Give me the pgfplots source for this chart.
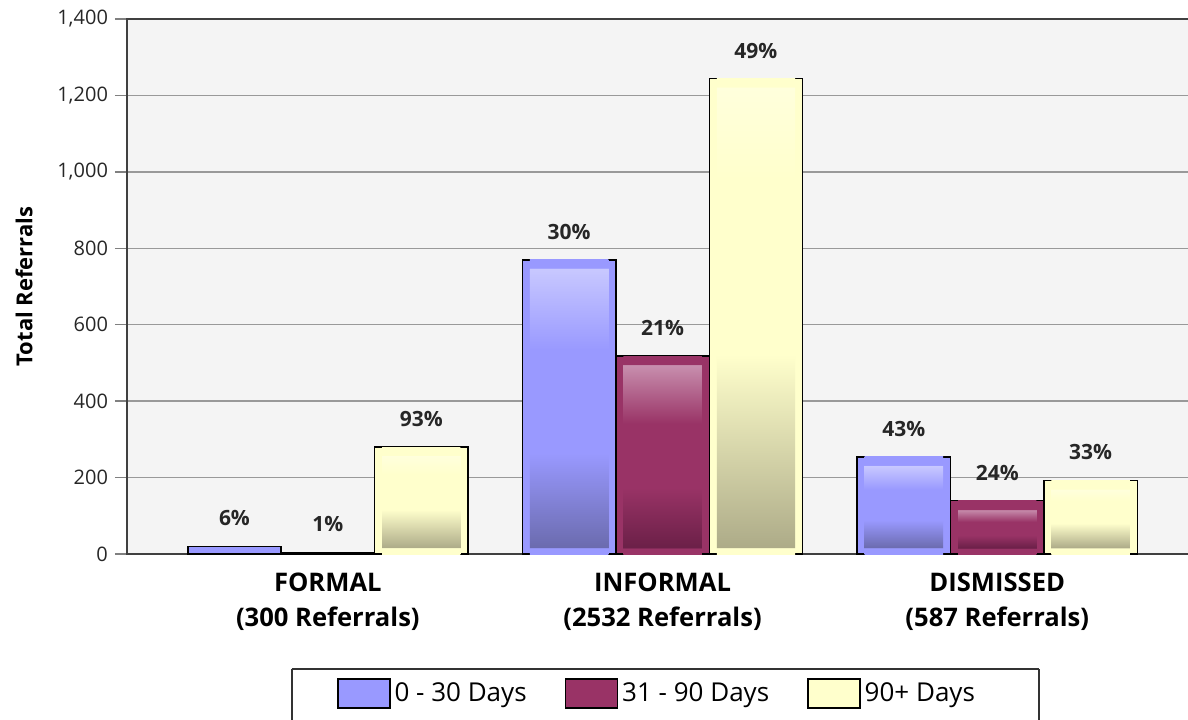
\documentclass[border=0pt]{standalone}
\usepackage{pgfplots}
\pgfplotsset{compat=1.18}
\usepackage{fontspec}
\setmainfont{Open Sans}
\definecolor{cA}{HTML}{9999FF}
\definecolor{cAt}{HTML}{C8C8FF}
\definecolor{cAb}{HTML}{6B6BAE}
\definecolor{cB}{HTML}{993366}
\definecolor{cBt}{HTML}{C88FAE}
\definecolor{cBb}{HTML}{6B2048}
\definecolor{cC}{HTML}{FFFFCC}
\definecolor{cCt}{HTML}{FFFFDC}
\definecolor{cCb}{HTML}{ADAB88}
\definecolor{bgc}{HTML}{F4F4F4}
% #1 name, #2 bar value, #3 dark, #4 base, #5 light, #6 bottom fraction, #7 top fraction
\newcommand\mkshade[7]{%
  \pgfmathsetmacro\hh{#2/1400*267.5}%
  \pgfmathsetmacro\hi{\hh-7.5}%
  \pgfmathsetmacro\sa{25+150/\hh}%
  \pgfmathsetmacro\sb{\sa+0.02}%
  \pgfmathsetmacro\sc{25+50*(3+#6*\hi)/\hh}%
  \pgfmathsetmacro\sd{25+50*(\hh-4.5-#7*\hi)/\hh}%
  \pgfmathsetmacro\se{25+50*(\hh-4.5)/\hh}%
  \pgfmathsetmacro\sf{\se+0.02}%
  \edef\tmpdecl{\noexpand\pgfdeclareverticalshading{#1}{100bp}{color(0bp)=(#4); color(\sa bp)=(#4); color(\sb bp)=(#3); color(\sc bp)=(#4); color(\sd bp)=(#4); color(\se bp)=(#5); color(\sf bp)=(#4); color(100bp)=(#4)}}%
  \tmpdecl}
\mkshade{shA1}{770}{cAb}{cA}{cAt}{0.34}{0.29}
\mkshade{shA2}{254}{cAb}{cA}{cAt}{0.34}{0.29}
\mkshade{shB1}{518}{cBb}{cB}{cBt}{0.33}{0.32}
\mkshade{shB2}{140}{cBb}{cB}{cBt}{0.33}{0.32}
\mkshade{shC0}{280}{cCb}{cC}{cCt}{0.42}{0.2}
\mkshade{shC1}{1244}{cCb}{cC}{cCt}{0.42}{0.2}
\mkshade{shC2}{193}{cCb}{cC}{cCt}{0.42}{0.2}
\pgfplotsset{
  lab/.style={point meta=explicit symbolic, nodes near coords={\pgfplotspointmeta\%},
    nodes near coords style={anchor=center, yshift=14pt, xshift=#1, font=\fontsize{10.5}{12}\selectfont\bfseries, text=black!85}},
  barA/.style={ybar, bar width=0.279, bar shift=-0.279, draw=black, line width=0.75pt, fill=cA, lab=-46.69pt},
  barB/.style={ybar, bar width=0.279, bar shift=0, draw=black, line width=0.75pt, fill=cB, lab=0pt},
  barC/.style={ybar, bar width=0.279, bar shift=0.279, draw=black, line width=0.75pt, fill=cC, lab=46.69pt},
  inA/.style={ybar, bar width=0.2342, bar shift=-0.279, draw=none, shade, shading=#1},
  inB/.style={ybar, bar width=0.2342, bar shift=0, draw=none, shade, shading=#1},
  inC/.style={ybar, bar width=0.2342, bar shift=0.279, draw=none, shade, shading=#1},
}

\begin{document}
\begin{tikzpicture}[x=1pt,y=1pt]
\path[use as bounding box] (0,0) rectangle (594,359.5);
\begin{axis}[
  at={(63.5pt,82.5pt)}, anchor=south west,
  scale only axis, width=535pt, height=267.5pt,
  xmin=-0.6, xmax=2.5967, ymin=0, ymax=1400,
  axis background/.style={fill=bgc},
  ytick={0,200,...,1400},
  xtick={0,1,2},
  xticklabels={{FORMAL\\(300 Referrals)},{INFORMAL\\(2532 Referrals)},{DISMISSED\\(587 Referrals)}},
  xticklabel style={align=center, font=\fontsize{12.8}{17.5}\selectfont\bfseries, text=black},
  major x tick style={draw=none},
  ymajorgrids, grid style={black!40, line width=0.75pt},
  major y tick style={black!50, line width=0.75pt},
  tick align=outside, major tick length=6pt,
  yticklabel style={font=\fontsize{10}{12}\selectfont, text=black!85},
  /pgf/number format/assume math mode=true,
  /pgf/number format/1000 sep={,},
  axis line style={black!75, line width=1pt},
  ylabel={Total Referrals},
  every axis y label/.style={at={(axis description cs:0,0.5)}, xshift=-51.5pt, rotate=90, anchor=center, font=\fontsize{11}{13}\selectfont\bfseries, text=black},
  legend style={name=leg, draw=none, fill=white, inner xsep=0pt, inner ysep=0pt,
    at={(0,0)}, anchor=center, xshift=265.5pt, yshift=-69.75pt,
    font=\fontsize{13}{14}\selectfont, legend columns=3,
    /tikz/every even column/.append style={column sep=17pt}},
  legend cell align=left,
]
\addlegendimage{legend image code/.code={\draw[black, line width=0.75pt, fill=cA] (0pt,-7.25pt) rectangle (26pt,7.25pt);}}
\addlegendimage{legend image code/.code={\draw[black, line width=0.75pt, fill=cB] (0pt,-7.25pt) rectangle (26pt,7.25pt);}}
\addlegendimage{legend image code/.code={\draw[black, line width=0.75pt, fill=cC] (0pt,-7.25pt) rectangle (26pt,7.25pt);}}
\legend{0 - 30 Days, 31 - 90 Days, 90+ Days}
% FORMAL
\addplot[barA, forget plot] coordinates {(0,20) [6]};
\addplot[barB, forget plot] coordinates {(0,4) [1]};
\addplot[barC, forget plot] coordinates {(0,280) [93]};
\addplot[inC=shC0, forget plot] coordinates {(0,280)};
% INFORMAL
\addplot[barA, forget plot] coordinates {(1,770) [30]};
\addplot[inA=shA1, forget plot] coordinates {(1,770)};
\addplot[barB, forget plot] coordinates {(1,518) [21]};
\addplot[inB=shB1, forget plot] coordinates {(1,518)};
\addplot[barC, forget plot] coordinates {(1,1244) [49]};
\addplot[inC=shC1, forget plot] coordinates {(1,1244)};
% DISMISSED
\addplot[barA, forget plot] coordinates {(2,254) [43]};
\addplot[inA=shA2, forget plot] coordinates {(2,254)};
\addplot[barB, forget plot] coordinates {(2,140) [24]};
\addplot[inB=shB2, forget plot] coordinates {(2,140)};
\addplot[barC, forget plot] coordinates {(2,193) [33]};
\addplot[inC=shC2, forget plot] coordinates {(2,193)};
\end{axis}
\draw[black!80, line width=1pt] ([xshift=-22.5pt,yshift=12.25pt]leg.west) coordinate (LT) -- ([xshift=30pt,yshift=12.25pt]leg.east) coordinate (RT);
\draw[black!80, line width=1pt] (LT) -- ++(0,-40pt);
\draw[black!80, line width=1pt] (RT) -- ++(0,-40pt);
\end{tikzpicture}
\end{document}
